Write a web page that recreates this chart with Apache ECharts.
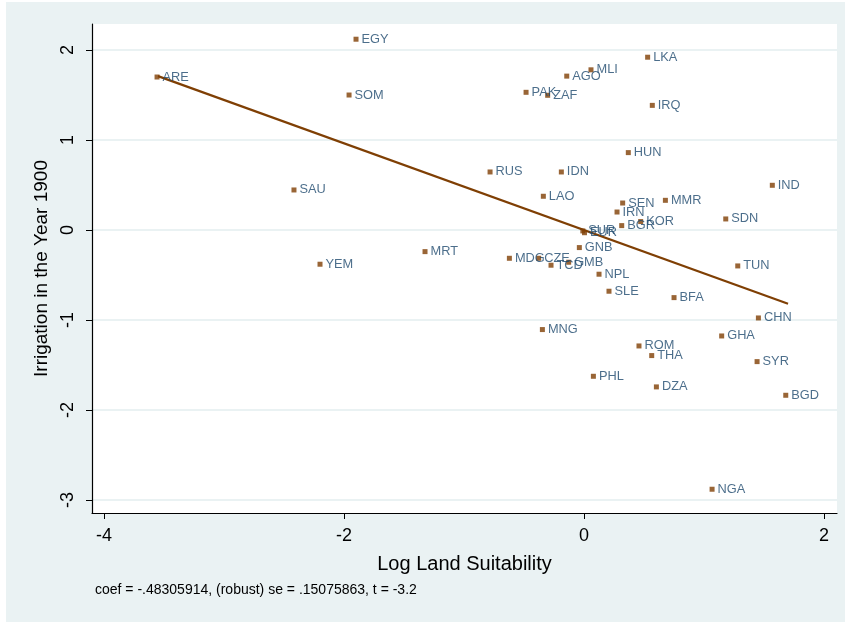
<!DOCTYPE html>
<html>
<head>
<meta charset="utf-8">
<script src="https://cdn.jsdelivr.net/npm/echarts@6/dist/echarts.min.js"></script>
<style>
  html, body { margin: 0; padding: 0; background: #fff; }
  #main { width: 845px; height: 622px; }
</style>
</head>
<body>
<div id="main"></div>
<script>
// country codes and their (log land suitability, irrigation 1900) values
var countries = ['EGY', 'ARE', 'SOM', 'SAU', 'YEM', 'MRT', 'LKA', 'MLI', 'AGO', 'PAK',
    'ZAF', 'IRQ', 'HUN', 'RUS', 'IDN', 'IND', 'LAO', 'SEN', 'MMR', 'IRN',
    'KOR', 'BGR', 'SDN', 'SUR', 'EUR', 'GNB', 'MDG', 'CZE', 'TCD', 'GMB',
    'NPL', 'SLE', 'BFA', 'TUN', 'CHN', 'MNG', 'GHA', 'ROM', 'THA', 'SYR',
    'PHL', 'DZA', 'BGD', 'NGA'];
var landSuit = [-1.90, -3.558, -1.958, -2.417, -2.20, -1.325, 0.53, 0.058, -0.144, -0.483,
    -0.303, 0.569, 0.369, -0.783, -0.189, 1.569, -0.339, 0.322, 0.678, 0.275,
    0.472, 0.314, 1.181, -0.01, 0.004, -0.039, -0.622, -0.378, -0.275, -0.128,
    0.125, 0.208, 0.75, 1.281, 1.453, -0.347, 1.147, 0.458, 0.564, 1.442,
    0.078, 0.603, 1.681, 1.067];
var irrigation = [2.12, 1.70, 1.50, 0.445, -0.38, -0.24, 1.92, 1.78, 1.71, 1.53,
    1.497, 1.385, 0.86, 0.645, 0.645, 0.497, 0.375, 0.30, 0.33, 0.20,
    0.094, 0.049, 0.123, -0.01, -0.03, -0.195, -0.314, -0.314, -0.391, -0.358,
    -0.491, -0.680, -0.751, -0.399, -0.977, -1.106, -1.177, -1.288, -1.395, -1.462,
    -1.625, -1.743, -1.836, -2.880];

// fitted line end points
var fitLine = [[-3.55, 1.71], [1.70, -0.82]];

var xTicks = [-4, -2, 0, 2];
var yTicks = [-3, -2, -1, 0, 1, 2];

var note = 'coef = -.48305914, (robust) se = .15075863, t = -3.2';

var myChart = echarts.init(document.getElementById('main'));

var points = countries.map(function (c, i) {
    return { name: c, value: [landSuit[i], irrigation[i]] };
});

var bg = '#eaf2f3';
var font = 'Liberation Sans, Arial, sans-serif';

var option = {
    backgroundColor: '#fff',
    animation: false,
    graphic: [
        {
            type: 'rect',
            z: -10,
            shape: { x: 6, y: 2, width: 839, height: 620 },
            style: { fill: bg }
        },
        {
            type: 'text',
            left: 95,
            top: 583,
            style: { text: note, fontSize: 14, fontFamily: font, fill: '#000' }
        }
    ],
    grid: {
        left: 92,
        top: 24,
        right: 8,
        bottom: 109,
        show: true,
        backgroundColor: '#fff',
        borderWidth: 0
    },
    xAxis: {
        type: 'value',
        min: -4.1,
        max: 2.108,
        name: 'Log Land Suitability',
        nameLocation: 'middle',
        nameGap: 41,
        nameTextStyle: { fontSize: 20, color: '#000', fontFamily: font },
        axisLine: { show: true, onZero: false, lineStyle: { color: '#000', width: 1.2 } },
        axisTick: { show: true, length: 6, customValues: xTicks, lineStyle: { color: '#000' } },
        axisLabel: { customValues: xTicks, fontSize: 18, color: '#000', margin: 14, fontFamily: font },
        splitLine: { show: false }
    },
    yAxis: {
        type: 'value',
        min: -3.144,
        max: 2.289,
        name: 'Irrigation in the Year 1900',
        nameLocation: 'middle',
        nameGap: 40,
        nameTextStyle: { fontSize: 19, color: '#000', fontFamily: font },
        axisLine: { show: true, onZero: false, lineStyle: { color: '#000', width: 1.2 } },
        axisTick: { show: true, length: 6, customValues: yTicks, lineStyle: { color: '#000' } },
        axisLabel: { customValues: yTicks, rotate: 90, fontSize: 18, color: '#000', margin: 15, fontFamily: font },
        splitLine: { show: true, lineStyle: { color: bg, width: 2 } }
    },
    series: [
        {
            type: 'line',
            data: fitLine,
            symbol: 'none',
            silent: true,
            lineStyle: { color: '#7f3f04', width: 2.2 },
            z: 3
        },
        {
            type: 'scatter',
            data: points,
            symbol: 'rect',
            symbolSize: 5,
            itemStyle: { color: '#7f3f04' },
            label: {
                show: true,
                position: 'right',
                distance: 3,
                formatter: '{b}',
                fontSize: 12.8,
                fontFamily: font,
                color: '#1f4a6e'
            },
            labelLayout: { hideOverlap: false },
            z: 4
        }
    ]
};

myChart.setOption(option);
</script>
</body>
</html>
